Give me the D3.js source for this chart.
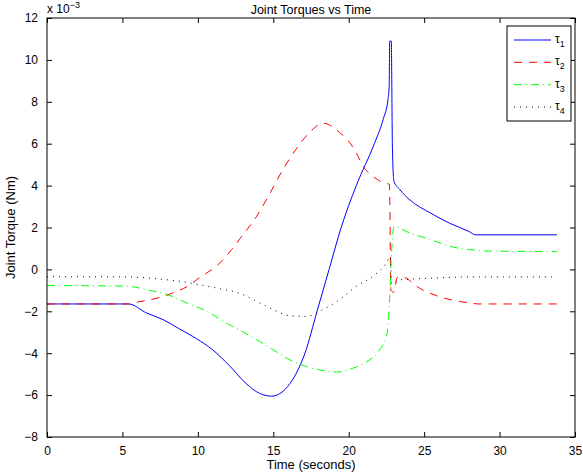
<!DOCTYPE html>
<html>
<head>
<meta charset="utf-8">
<script src="https://cdn.jsdelivr.net/npm/d3@7"></script>
<style>
  html, body { margin: 0; padding: 0; background: #fff; }
  svg { display: block; }
  text { font-family: "Liberation Sans", Arial, Helvetica, sans-serif; fill: #000; }
</style>
</head>
<body>
<svg id="chart" width="583" height="473"></svg>
<script>
// Joint torques (units of 1e-3 Nm) against time in seconds
const t1 = [0, 5.4, 6.6, 7.7, 8.8, 9.9, 11.0, 12.1, 13.2, 14.1, 14.9, 15.5, 16.1, 16.6, 17.1, 17.9, 18.7, 19.5, 20.5, 21.7, 22.3, 22.6, 22.68, 22.72, 22.82, 22.9, 23.0, 23.4, 24.0, 25.4, 26.7, 28.0, 28.4, 33.8];
const tau1 = [-1.65, -1.65, -2.08, -2.4, -2.85, -3.3, -3.85, -4.6, -5.45, -5.92, -6.05, -5.9, -5.45, -4.85, -4.0, -2.0, 0.0, 2.0, 4.0, 6.0, 7.2, 8.1, 8.7, 10.9, 10.9, 5.7, 4.2, 3.8, 3.35, 2.7, 2.2, 1.8, 1.65, 1.65];

const t2 = [0, 5.4, 6.0, 7.3, 8.6, 9.5, 9.93, 11.46, 12.25, 12.8, 13.9, 14.8, 15.65, 16.5, 17.4, 18.3, 19.4, 20.07, 20.5, 20.95, 21.6, 22.3, 22.7, 22.8, 23.0, 23.2, 23.5, 24.7, 26.0, 27.35, 28.2, 28.6, 33.8];
const tau2 = [-1.65, -1.65, -1.56, -1.37, -1.05, -0.73, -0.49, 0.31, 0.95, 1.48, 2.54, 3.66, 4.78, 5.73, 6.53, 6.98, 6.53, 6.05, 5.57, 4.93, 4.45, 4.14, 4.05, -1.0, -1.1, -0.4, -0.35, -0.9, -1.3, -1.53, -1.62, -1.65, -1.65];

const t3 = [0, 5.3, 6.6, 7.95, 9.27, 10.6, 11.9, 12.8, 14.1, 15.0, 16.1, 17.2, 18.3, 19.2, 20.3, 21.2, 22.05, 22.5, 22.7, 22.8, 23.0, 24.0, 25.4, 26.7, 28.0, 29.0, 33.8];
const tau3 = [-0.77, -0.8, -0.97, -1.2, -1.6, -2.0, -2.56, -2.91, -3.44, -3.84, -4.32, -4.64, -4.83, -4.9, -4.71, -4.4, -3.84, -3.2, -1.6, 0.2, 2.05, 1.75, 1.43, 1.1, 0.95, 0.88, 0.85];

const t4 = [0, 5.3, 7.3, 8.8, 10.1, 11.5, 12.8, 14.1, 15.0, 16.1, 17.2, 18.3, 19.4, 20.5, 21.6, 22.5, 22.75, 22.85, 23.4, 24.5, 26.0, 28.0, 33.8];
const tau4 = [-0.35, -0.36, -0.45, -0.57, -0.73, -0.93, -1.15, -1.6, -1.92, -2.21, -2.24, -1.92, -1.44, -0.81, -0.33, 0.31, 0.6, -0.7, -0.5, -0.45, -0.4, -0.36, -0.36];

const seriesNames = ["1", "2", "3", "4"];
const xTicks = [0, 5, 10, 15, 20, 25, 30, 35];
const yTicks = [-8, -6, -4, -2, 0, 2, 4, 6, 8, 10, 12];

const series = [
  { name: seriesNames[0], t: t1, v: tau1, color: "#0000ff", dash: null },
  { name: seriesNames[1], t: t2, v: tau2, color: "#ff0000", dash: "8,7" },
  { name: seriesNames[2], t: t3, v: tau3, color: "#00ff00", dash: "8,4,1,4" },
  { name: seriesNames[3], t: t4, v: tau4, color: "#000000", dash: "1,5" }
];

const svg = d3.select("#chart");
const box = { left: 47, right: 575, top: 18, bottom: 437 };

const x = d3.scaleLinear().domain([0, 35]).range([box.left, box.right]);
const y = d3.scaleLinear().domain([-8, 12]).range([box.bottom, box.top]);

const fmt = d => d3.format("d")(d).replace("-", "\u2212");

// data lines
const line = d3.line()
  .x(d => x(d[0]))
  .y(d => y(d[1]))
  .curve(d3.curveMonotoneX);

const plot = svg.append("g");
series.forEach(s => {
  plot.append("path")
    .datum(s.t.map((tt, i) => [tt, s.v[i]]))
    .attr("fill", "none")
    .attr("stroke", s.color)
    .attr("stroke-width", 1)
    .attr("stroke-dasharray", s.dash)
    .attr("d", line);
});

// axes: ticks point inward on all four sides
const tl = 5;
const axisStyle = g => {
  g.select(".domain").remove();
  g.selectAll(".tick line").attr("stroke", "#000");
  g.selectAll(".tick text").style("font-size", "12px").attr("fill", "#000")
    .style("font-family", '"Liberation Sans", Arial, sans-serif');
};

svg.append("g").attr("transform", `translate(0,${box.bottom})`)
  .call(d3.axisBottom(x).tickValues(xTicks).tickFormat(fmt).tickSizeInner(-tl).tickSizeOuter(0).tickPadding(9))
  .call(axisStyle);
svg.append("g").attr("transform", `translate(0,${box.top})`)
  .call(d3.axisTop(x).tickValues(xTicks).tickFormat("").tickSizeInner(-tl).tickSizeOuter(0))
  .call(axisStyle);
svg.append("g").attr("transform", `translate(${box.left},0)`)
  .call(d3.axisLeft(y).tickValues(yTicks).tickFormat(fmt).tickSizeInner(-tl).tickSizeOuter(0).tickPadding(9))
  .call(axisStyle);
svg.append("g").attr("transform", `translate(${box.right},0)`)
  .call(d3.axisRight(y).tickValues(yTicks).tickFormat("").tickSizeInner(-tl).tickSizeOuter(0))
  .call(axisStyle);

// frame
svg.append("rect")
  .attr("x", box.left).attr("y", box.top)
  .attr("width", box.right - box.left).attr("height", box.bottom - box.top)
  .attr("fill", "none").attr("stroke", "#000").attr("stroke-width", 1);

// title and axis labels
svg.append("text")
  .attr("x", (box.left + box.right) / 2).attr("y", 14)
  .attr("text-anchor", "middle").style("font-size", "12.5px")
  .text("Joint Torques vs Time");

svg.append("text")
  .attr("x", (box.left + box.right) / 2).attr("y", 469)
  .attr("text-anchor", "middle").style("font-size", "13px")
  .text("Time (seconds)");

svg.append("text")
  .attr("transform", `translate(15,${(box.top + box.bottom) / 2}) rotate(-90)`)
  .attr("text-anchor", "middle").style("font-size", "13px")
  .text("Joint Torque (Nm)");

// exponent multiplier
const ex = svg.append("text").attr("x", box.left).attr("y", 13).style("font-size", "12px");
ex.append("tspan").text("x 10");
ex.append("tspan").attr("dy", -5).style("font-size", "9px").text("\u22123");

// legend
const lg = svg.append("g");
lg.append("rect")
  .attr("x", 507).attr("y", 26).attr("width", 64).attr("height", 95)
  .attr("fill", "#fff").attr("stroke", "#000").attr("stroke-width", 1);
const ly = d3.scalePoint().domain(seriesNames).range([40, 107]);
series.forEach(s => {
  const yy = ly(s.name);
  lg.append("line")
    .attr("x1", 514).attr("x2", 551).attr("y1", yy).attr("y2", yy)
    .attr("stroke", s.color).attr("stroke-width", 1)
    .attr("stroke-dasharray", s.dash);
  const tx = lg.append("text").attr("x", 555).attr("y", yy + 3).style("font-size", "12px");
  tx.append("tspan").text("\u03c4");
  tx.append("tspan").attr("dy", 4).style("font-size", "9px").text(s.name);
});
</script>
</body>
</html>
